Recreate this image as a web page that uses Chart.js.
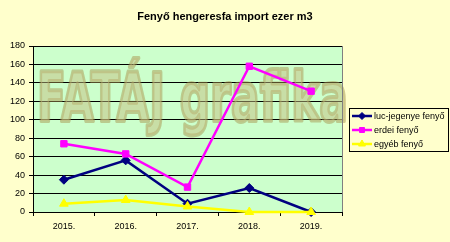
<!DOCTYPE html>
<html lang="hu">
<head>
    <meta charset="UTF-8">
    <title>Fenyő hengeresfa import</title>
    <style>
        body {
            margin: 0;
            background: #FFFFCC;
            font-family: "Liberation Sans", Arial, sans-serif;
        }
        #wrap {
            width: 450px;
            height: 242px;
        }
    </style>
    <script src="https://cdn.jsdelivr.net/npm/chart.js"></script>
</head>
<body>
    <div id="wrap">
        <canvas id="chart" width="450" height="242"></canvas>
    </div>

    <script>
        // data
        var years = ['2015.', '2016.', '2017.', '2018.', '2019.'];
        var lucJegenye = [35, 56, 9, 26, 0];
        var erdei = [74, 63, 27, 158, 131];
        var egyeb = [9, 13, 6, 0, 0];
        var seriesNames = ['luc-jegenye fenyő', 'erdei fenyő', 'egyéb fenyő'];

        var FONT = '"Liberation Sans", Arial, sans-serif';

        // fill page and plot area backgrounds
        var bgPlugin = {
            id: 'bg',
            beforeDraw: function (chart) {
                var ctx = chart.ctx, a = chart.chartArea;
                ctx.save();
                ctx.fillStyle = '#FFFFCC';
                ctx.fillRect(0, 0, chart.width, chart.height);
                ctx.fillStyle = '#CCFFCC';
                ctx.fillRect(a.left, a.top, a.right - a.left, a.bottom - a.top);
                ctx.restore();
            }
        };

        // watermark text on top of the grid + legend box
        var watermark = {
            id: 'watermark',
            beforeDatasetsDraw: function (chart) {
                var ctx = chart.ctx;
                var txt = 'FATÁJ grafika';
                ctx.save();
                ctx.font = 'bold 68px "DejaVu Sans"';
                ctx.textBaseline = 'alphabetic';
                ctx.textAlign = 'left';
                var w = ctx.measureText(txt).width;
                ctx.translate(37, 121);
                ctx.scale(311 / w, 1);
                ctx.globalAlpha = 0.5;
                ctx.lineJoin = 'round';
                ctx.lineWidth = 4;
                ctx.strokeStyle = '#A89850';
                ctx.strokeText(txt, 0, 0);
                ctx.fillStyle = '#C4BE80';
                ctx.fillText(txt, 0, 0);
                ctx.restore();
            },
            afterDraw: function (chart) {
                var ctx = chart.ctx, a = chart.chartArea;
                ctx.save();
                ctx.strokeStyle = '#808080';
                ctx.lineWidth = 1;
                ctx.beginPath();
                ctx.moveTo(Math.round(a.right) + 0.5, a.top);
                ctx.lineTo(Math.round(a.right) + 0.5, a.bottom);
                ctx.stroke();

                ctx.strokeStyle = '#000';
                ctx.strokeRect(349.5, 108.5, 99, 43);
                ctx.font = '9px ' + FONT;
                ctx.textBaseline = 'middle';
                ctx.textAlign = 'left';
                chart.data.datasets.forEach(function (ds, i) {
                    var y = 116 + i * 14;
                    ctx.strokeStyle = ds.borderColor;
                    ctx.lineWidth = 2.5;
                    ctx.beginPath();
                    ctx.moveTo(352, y);
                    ctx.lineTo(372, y);
                    ctx.stroke();
                    ctx.fillStyle = ds.pointBackgroundColor;
                    ctx.lineWidth = 1;
                    Chart.helpers.drawPoint(ctx, {
                        pointStyle: ds.pointStyle,
                        radius: ds.pointRadius - 1,
                        rotation: 0,
                        borderWidth: 1
                    }, 362, y);
                    ctx.fillStyle = '#000';
                    ctx.fillText(ds.label, 374, y + 0.5);
                });
                ctx.restore();
            }
        };

        var ctx = document.getElementById('chart').getContext('2d');
        var chart = new Chart(ctx, {
            type: 'line',
            data: {
                labels: years,
                datasets: [{
                    label: seriesNames[0],
                    data: lucJegenye,
                    order: 3,
                    borderColor: '#000080',
                    pointBackgroundColor: '#000080',
                    pointBorderColor: '#000080',
                    pointStyle: 'rectRot',
                    pointRadius: 4.5,
                    pointBorderWidth: 1,
                    borderWidth: 2.5,
                    tension: 0
                }, {
                    label: seriesNames[1],
                    data: erdei,
                    order: 2,
                    borderColor: '#FF00FF',
                    pointBackgroundColor: '#FF00FF',
                    pointBorderColor: '#FF00FF',
                    pointStyle: 'rect',
                    pointRadius: 4.5,
                    pointBorderWidth: 1,
                    borderWidth: 2.5,
                    tension: 0
                }, {
                    label: seriesNames[2],
                    data: egyeb,
                    order: 1,
                    borderColor: '#FFFF00',
                    pointBackgroundColor: '#FFFF00',
                    pointBorderColor: '#FFFF00',
                    pointStyle: 'triangle',
                    pointRadius: 5,
                    pointBorderWidth: 1,
                    borderWidth: 2.5,
                    tension: 0
                }]
            },
            options: {
                responsive: false,
                animation: false,
                clip: false,
                layout: { padding: 0 },
                plugins: {
                    legend: { display: false },
                    tooltip: { enabled: false },
                    title: {
                        display: true,
                        text: 'Fenyő hengeresfa import ezer m3',
                        color: '#000',
                        font: { family: FONT, size: 11, weight: 'bold' },
                        padding: { top: 10, bottom: 22.8 }
                    }
                },
                scales: {
                    x: {
                        offset: true,
                        grid: {
                            offset: true,
                            drawOnChartArea: false,
                            drawTicks: true,
                            tickLength: 4,
                            color: '#000'
                        },
                        border: { color: '#000', width: 1 },
                        ticks: {
                            color: '#000',
                            font: { family: FONT, size: 9 },
                            padding: 5
                        },
                        afterFit: function (s) { s.height = 30; }
                    },
                    y: {
                        min: 0,
                        max: 180,
                        ticks: {
                            stepSize: 20,
                            color: '#000',
                            font: { family: FONT, size: 9 },
                            padding: 4
                        },
                        grid: {
                            color: '#000',
                            lineWidth: 1,
                            tickLength: 4
                        },
                        border: { color: '#000', width: 1 },
                        afterFit: function (s) { s.width = 33; }
                    },
                    // empty right-hand axis that keeps room for the legend box
                    side: {
                        type: 'linear',
                        position: 'right',
                        display: true,
                        grid: { display: false },
                        border: { display: false },
                        ticks: { display: false },
                        afterFit: function (s) { s.width = 108; }
                    }
                }
            },
            plugins: [bgPlugin, watermark]
        });
    </script>
</body>
</html>
